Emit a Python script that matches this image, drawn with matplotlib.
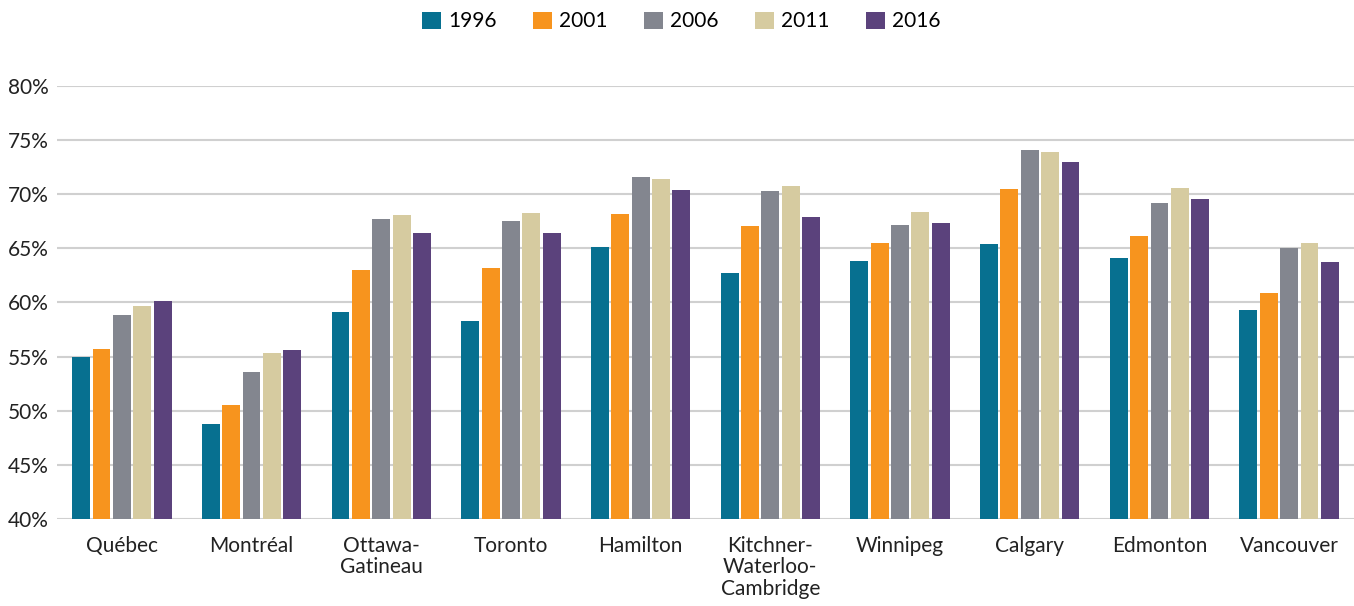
import matplotlib
matplotlib.use('Agg')
import matplotlib.pyplot as plt
import numpy as np

cities = ['Québec', 'Montréal', 'Ottawa-\nGatineau', 'Toronto', 'Hamilton',
          'Kitchner-\nWaterloo-\nCambridge', 'Winnipeg', 'Calgary', 'Edmonton', 'Vancouver']
years = ['1996', '2001', '2006', '2011', '2016']
colors = ['#077090', '#F7941E', '#83868F', '#D6CBA0', '#5B427C']

v1996 = [55.0, 48.8, 59.1, 58.3, 65.1, 62.7, 63.8, 65.4, 64.1, 59.3]
v2001 = [55.7, 50.55, 63.0, 63.2, 68.2, 67.1, 65.5, 70.5, 66.1, 60.9]
v2006 = [58.8, 53.6, 67.7, 67.5, 71.6, 70.3, 67.2, 74.1, 69.2, 65.05]
v2011 = [59.7, 55.3, 68.1, 68.3, 71.4, 70.8, 68.4, 73.9, 70.6, 65.5]
v2016 = [60.15, 55.6, 66.4, 66.4, 70.4, 67.9, 67.3, 73.0, 69.6, 63.7]
series = [v1996, v2001, v2006, v2011, v2016]

plt.rcParams['font.family'] = ['Lato', 'DejaVu Sans']

fig = plt.figure(figsize=(13.54, 6.06), dpi=100)
ax = fig.add_axes([57 / 1354, 1 - 519 / 606, 1297 / 1354, (519 - 86) / 606])

pos = np.arange(len(cities))
step = 0.157
width = 0.138
for i, (vals, yr) in enumerate(zip(series, years)):
    ax.bar(pos + (i - 2) * step, vals, width, color=colors[i], label=yr, zorder=3)

ax.set_ylim(40, 80)
ax.set_xlim(-0.5, len(cities) - 0.5)
ax.set_yticks(np.arange(40, 81, 5))
ax.set_yticklabels([f'{t}%' for t in range(40, 81, 5)], fontsize=15, color='#222222')
ax.set_xticks(pos)
ax.set_xticklabels(cities, fontsize=15, color='#222222', linespacing=1.1)
ax.tick_params(axis='both', length=0)
ax.tick_params(axis='x', pad=12)
ax.tick_params(axis='y', pad=6)
ax.grid(axis='y', color='#D0D0D0', linewidth=1.5, zorder=0)
for s in ax.spines.values():
    s.set_visible(False)

fig.legend(loc='upper center', bbox_to_anchor=(0.503, 1.012), ncol=5, frameon=False,
           fontsize=15, handlelength=0.9, handleheight=0.9, handletextpad=0.35,
           columnspacing=1.75)

fig.savefig('out.png', dpi=100)
